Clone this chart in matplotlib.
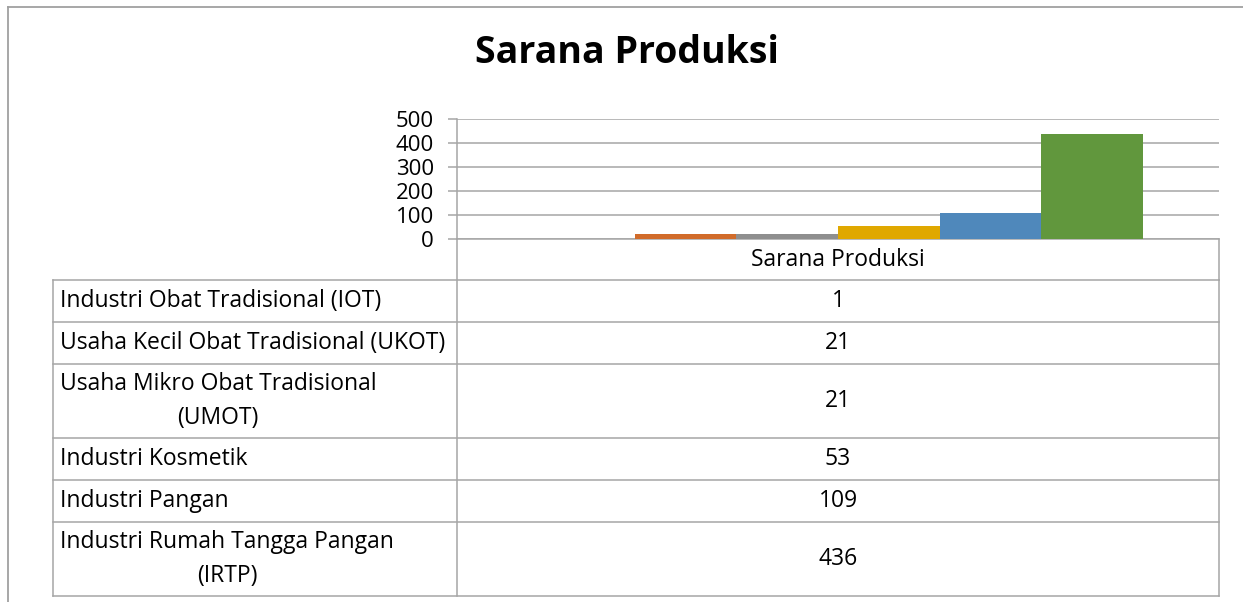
import matplotlib
matplotlib.use("Agg")
import matplotlib.pyplot as plt

# Chart data
group_label = "Sarana Produksi"
categories = [
    "Industri Obat Tradisional (IOT)",
    "Usaha Kecil Obat Tradisional (UKOT)",
    "Usaha Mikro Obat Tradisional\n(UMOT)",
    "Industri Kosmetik",
    "Industri Pangan",
    "Industri Rumah Tangga Pangan\n(IRTP)",
]
values = [1, 21, 21, 53, 109, 436]
bar_colors = ["#4F88BB", "#D16B2A", "#8F8F8F", "#E0A800", "#4F88BB", "#61973D"]
yticks = [0, 100, 200, 300, 400, 500]

plt.rcParams['font.family'] = ['Open Sans', 'DejaVu Sans']

W, H = 1243, 602
fig = plt.figure(figsize=(W / 100, H / 100), dpi=100)
grey = "#A6A6A6"

# plot area in pixels
px_left, px_right, px_top, px_bottom = 457, 1219, 119, 239
ax = fig.add_axes([px_left / W, 1 - px_bottom / H, (px_right - px_left) / W, (px_bottom - px_top) / H])

# clustered bars, gap width 150%
n = len(values)
bw = 1 / (n + 1.5)
start = 0.75 * bw
for i, (v, c) in enumerate(zip(values, bar_colors)):
    ax.bar(start + bw * (i + 0.5), v, width=bw, color=c, zorder=3)

ax.set_xlim(0, 1)
ax.set_ylim(yticks[0], yticks[-1])
ax.set_yticks(yticks)
ax.set_yticklabels([str(t) for t in yticks], fontsize=16)
ax.set_xticks([])
ax.yaxis.grid(True, color=grey, linewidth=1.1, zorder=0)
ax.tick_params(axis='y', length=6.5, width=1.1, color=grey, pad=10)
for s in ['top', 'right']:
    ax.spines[s].set_visible(False)
for s in ['left', 'bottom']:
    ax.spines[s].set_color(grey)
    ax.spines[s].set_linewidth(1.1)

# overlay for title, frame and data table (pixel coords)
ov = fig.add_axes([0, 0, 1, 1], facecolor='none')
ov.set_xlim(0, W)
ov.set_ylim(H, 0)
ov.axis('off')

lw = 1.1
# chart frame (cropped on the right and bottom)
ov.plot([8, W + 10], [7, 7], color="#A0A0A0", lw=1.3, clip_on=False)
ov.plot([8, 8], [7, H + 10], color="#A0A0A0", lw=1.3, clip_on=False)

ov.text(627, 63, group_label, fontsize=27, fontweight='bold', ha='center', va='baseline')

# table
fs = 16.5
tab_left = 53
hdr_bottom = 280
ov.text((px_left + px_right) / 2, (px_bottom + hdr_bottom) / 2, group_label, fontsize=fs, ha='center', va='center')
ov.plot([px_right, px_right], [px_bottom, hdr_bottom], color=grey, lw=lw)

y = hdr_bottom
ov.plot([tab_left, px_right], [y, y], color=grey, lw=lw)
for cat, v in zip(categories, values):
    nlines = cat.count("\n") + 1
    h = 10 + 32 * nlines
    yc = y + h / 2
    ov.text(60, yc, cat, fontsize=fs, ha='left', va='center', multialignment='center', linespacing=1.6)
    ov.text((px_left + px_right) / 2, yc, str(v), fontsize=fs, ha='center', va='center')
    y += h
    ov.plot([tab_left, px_right], [y, y], color=grey, lw=lw)

for x in [tab_left, px_left, px_right]:
    ov.plot([x, x], [hdr_bottom if x != px_left else px_bottom, y], color=grey, lw=lw)

fig.savefig("out.png", dpi=100)
